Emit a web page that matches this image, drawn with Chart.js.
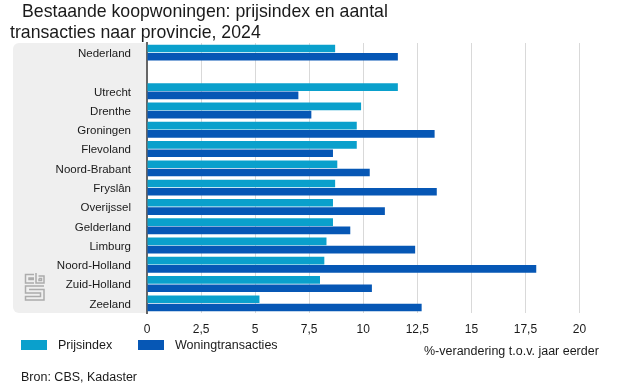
<!DOCTYPE html>
<html>
<head>
<meta charset="utf-8">
<script src="https://cdn.jsdelivr.net/npm/chart.js@4/dist/chart.umd.min.js"></script>
<style>
html,body{margin:0;padding:0;background:#fff;width:626px;height:385px;overflow:hidden;font-family:"Liberation Sans",Arial,sans-serif;color:#1a1a1a}
#wrap{position:relative;width:626px;height:385px}
canvas{position:absolute;left:0;top:0}
.t{position:absolute;white-space:nowrap}
.sw{position:absolute;width:26px;height:10px}
</style>
</head>
<body>
<div id="wrap">
<canvas id="c" width="626" height="385"></canvas>
<div class="t" style="left:22px;top:0px;font-size:17.7px;line-height:22px">Bestaande koopwoningen: prijsindex en aantal</div>
<div class="t" style="left:10px;top:21px;font-size:17.7px;line-height:22px">transacties naar provincie, 2024</div>
<div id="lg"></div>
<div class="t" style="left:424px;top:344px;font-size:12.5px;line-height:15px">%-verandering t.o.v. jaar eerder</div>
<div class="t" style="left:21px;top:370px;font-size:12.5px;line-height:15px">Bron: CBS, Kadaster</div>
</div>
<script>
const categories = ["Nederland","","Utrecht","Drenthe","Groningen","Flevoland","Noord-Brabant","Fryslân","Overijssel","Gelderland","Limburg","Noord-Holland","Zuid-Holland","Zeeland"];
const prijsindex = [8.7,null,11.6,9.9,9.7,9.7,8.8,8.7,8.6,8.6,8.3,8.2,8.0,5.2];
const woningtransacties = [11.6,null,7.0,7.6,13.3,8.6,10.3,13.4,11.0,9.4,12.4,18.0,10.4,12.7];
const seriesNames = ["Prijsindex","Woningtransacties"];
const seriesColors = ["#0aa0cc","#0657b5"];
const xTicks = [0,2.5,5,7.5,10,12.5,15,17.5,20];

const panel = {
  id:"panel",
  beforeDraw(chart){
    const {ctx,chartArea:a}=chart;
    ctx.save();
    ctx.fillStyle="#efefef";
    ctx.beginPath();
    ctx.roundRect(13,a.top,a.left-13+1,a.bottom-a.top,[6,0,0,6]);
    ctx.fill();
    // CBS logo
    ctx.strokeStyle="#acacac";
    ctx.lineWidth=1.5;
    const paths=[
      [[34,274.5],[25.5,274.5],[25.5,283],[34,283]],
      [[34,278],[29,278],[29,279.5],[34,279.5]],
      [[36,273],[36,283],[44,283],[44,276],[38.5,276]],
      [[39,278.5],[41.5,278.5],[41.5,280.5],[39,280.5],[39,278.5]],
      [[44,286],[25.5,286],[25.5,293],[40.5,293],[40.5,296.5],[25.5,296.5],[25.5,300],[44,300],[44,289.5],[29,289.5]]
    ];
    paths.forEach(p=>{ctx.beginPath();p.forEach((q,i)=>i?ctx.lineTo(q[0],q[1]):ctx.moveTo(q[0],q[1]));ctx.stroke();});
    ctx.restore();
  }
};

new Chart(document.getElementById("c"),{
  type:"bar",
  data:{
    labels:categories,
    datasets:[
      {label:seriesNames[0],data:prijsindex,backgroundColor:seriesColors[0]},
      {label:seriesNames[1],data:woningtransacties,backgroundColor:seriesColors[1]}
    ]
  },
  options:{
    indexAxis:"y",
    responsive:false,
    animation:false,
    layout:{padding:{top:43,right:46.5,left:0,bottom:0}},
    plugins:{legend:{display:false},title:{display:false},tooltip:{enabled:false}},
    datasets:{bar:{categoryPercentage:0.86,barPercentage:0.92}},
    scales:{
      x:{
        type:"linear",min:0,max:20,
        afterBuildTicks(s){s.ticks=xTicks.map(v=>({value:v}));},
        afterFit(s){s.height=72;},
        grid:{color:"#d9d9d9",lineWidth:1,drawTicks:false,drawOnChartArea:true},
        border:{display:false},
        ticks:{padding:9,maxRotation:0,autoSkip:false,color:"#1a1a1a",font:{family:"'Liberation Sans'",size:12},callback:v=>String(v).replace(".",",")}
      },
      y:{
        afterFit(s){s.width=147;},
        grid:{display:false,drawTicks:false},
        border:{display:true,color:"#666666",width:2},
        ticks:{padding:16,labelOffset:1.2,autoSkip:false,color:"#1a1a1a",font:{family:"'Liberation Sans'",size:11.5}}
      }
    }
  },
  plugins:[panel]
});

const lg=document.getElementById("lg");
[[21,58],[138,175]].forEach((p,i)=>{
  const s=document.createElement("div");s.className="sw";s.style.cssText=`left:${p[0]}px;top:340px;background:${seriesColors[i]}`;lg.appendChild(s);
  const t=document.createElement("div");t.className="t";t.style.cssText="left:"+p[1]+"px;top:338px;font-size:12.5px;line-height:15px";t.textContent=seriesNames[i];lg.appendChild(t);
});
</script>
</body>
</html>
